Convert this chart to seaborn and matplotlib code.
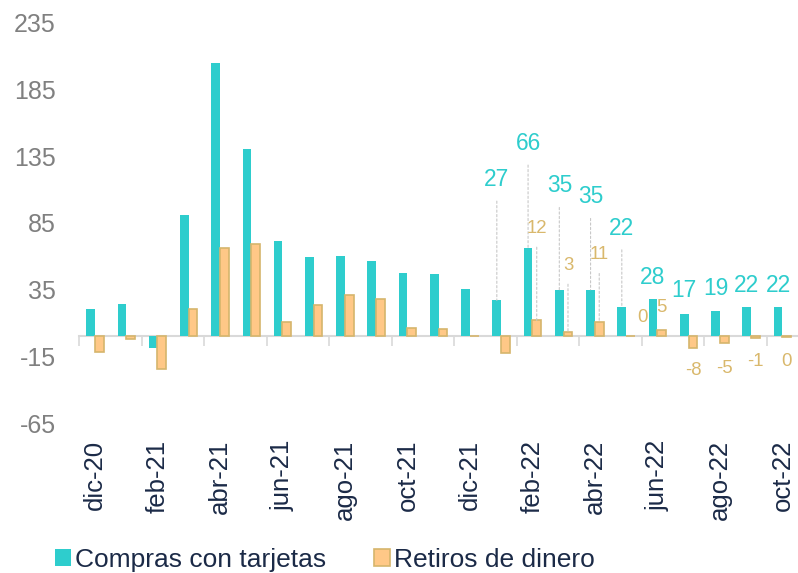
import pandas as pd
import matplotlib
matplotlib.use('Agg')
import matplotlib.pyplot as plt
import seaborn as sns

# datos (variación %)
meses = ['dic-20', 'ene-21', 'feb-21', 'mar-21', 'abr-21', 'may-21', 'jun-21', 'jul-21',
         'ago-21', 'sep-21', 'oct-21', 'nov-21', 'dic-21', 'ene-22', 'feb-22', 'mar-22',
         'abr-22', 'may-22', 'jun-22', 'jul-22', 'ago-22', 'sep-22', 'oct-22']
compras = [20.4, 24.1, -8.4, 90.8, 205, 140.2, 71.5, 59.6, 60.4, 56.6, 47.3, 46.8, 35.4,
           27, 66, 35, 35, 22, 28, 17, 19, 22, 22]
retiros = [-11.4, -2.1, -24.6, 20.5, 66.5, 69.5, 10.8, 23.8, 31, 28, 6.3, 5.8, 0.5,
           -12, 12, 3, 11, 0.3, 5, -8.4, -5, -1, -0.4]
series = ['Compras con tarjetas', 'Retiros de dinero']
yticks = [-65, -15, 35, 85, 135, 185, 235]

# etiquetas: desde qué mes se rotulan y desplazamiento (px) respecto a la barra
ini_compras = 13
dy_compras = [121, 105, 104, 93, 79, 22, 23, 23, 22, 22]
ini_retiros = 14
dy_retiros = [92, 67, 67, 19, 22, -23, -25, -24, -24]
dx_retiros = [0, 0, 0, 12, 0, 0, 0, 0, 0]

# colores
teal = '#2ECDCD'
tan = '#FFC887'
tan_edge = '#D6B56C'
tan_txt = '#D9B86C'
gris = '#808080'
linea = '#D9D9D9'
navy = '#1B2A47'

sns.set_style('white')
plt.rcParams['font.family'] = ['Liberation Sans', 'DejaVu Sans']
plt.rcParams['axes.unicode_minus'] = False

df = pd.DataFrame({
    'mes': meses * 2,
    'serie': [series[0]] * len(meses) + [series[1]] * len(meses),
    'valor': compras + retiros,
})

fig = plt.figure(figsize=(7.98, 5.73), dpi=100)
ax = fig.add_axes([0.0994, 0.2613, 0.9006, 0.6991])

sns.barplot(data=df, x='mes', y='valor', hue='serie', order=meses, hue_order=series,
            palette=[teal, tan], width=0.555, gap=0, saturation=1, errorbar=None,
            legend=False, ax=ax)

for p in ax.containers[0]:
    p.set_linewidth(0)
for p in ax.containers[1]:
    p.set_edgecolor(tan_edge)
    p.set_linewidth(1.2)

ylim = (-65, 235)
ax.set_xlim(-0.5, len(meses) - 0.5)
ax.set_ylim(*ylim)
ax.set_yticks(yticks)
ax.tick_params(axis='y', length=0, pad=17, labelsize=18, labelcolor=gris)
ax.set_xticks(range(0, len(meses), 2))
ax.set_xticklabels(meses[::2], rotation=90)
ax.tick_params(axis='x', length=0, pad=12, labelsize=18.5, labelcolor=navy)
ax.set_xlabel('')
ax.set_ylabel('')
for s in ax.spines.values():
    s.set_visible(False)

# eje en cero con marcas entre cada dos meses
cero = (0 - ylim[0]) / (ylim[1] - ylim[0])
sec = ax.secondary_xaxis(cero)
sec.set_xticks([i - 0.5 for i in range(0, len(meses), 2)])
sec.tick_params(axis='x', direction='out', length=7, width=1.2, color=linea, labelbottom=False)
sec.spines['bottom'].set_color(linea)
sec.spines['bottom'].set_linewidth(1.5)


def rotular(cont, valores, ini, dys, dxs, color, size):
    for k, dy in enumerate(dys):
        i = ini + k
        p = cont.patches[i]
        x = p.get_x() + p.get_width() / 2
        v = valores[i]
        flecha = None
        if abs(dy) > 40:
            flecha = dict(arrowstyle='-', color='#C8C8C8', lw=0.8, linestyle=(0, (2, 2)),
                          shrinkA=5, shrinkB=0)
        ax.annotate(f'{int(round(v))}', xy=(x, v), xytext=(dxs[k], dy),
                    textcoords='offset pixels', ha='center', va='center',
                    fontsize=size, color=color, arrowprops=flecha)


rotular(ax.containers[0], compras, ini_compras, dy_compras, [0] * len(dy_compras), teal, 16.4)
rotular(ax.containers[1], retiros, ini_retiros, dy_retiros, dx_retiros, tan_txt, 13.4)

leg = fig.legend(handles=[ax.containers[0], ax.containers[1]], labels=series,
                 loc='center left', bbox_to_anchor=(0.069, 0.0227), ncol=2, frameon=False,
                 fontsize=19, handlelength=0.6, handleheight=0.6, handletextpad=0.16,
                 columnspacing=1.82, borderpad=0, borderaxespad=0)
for t in leg.get_texts():
    t.set_color(navy)

fig.savefig('out.png', dpi=100)
